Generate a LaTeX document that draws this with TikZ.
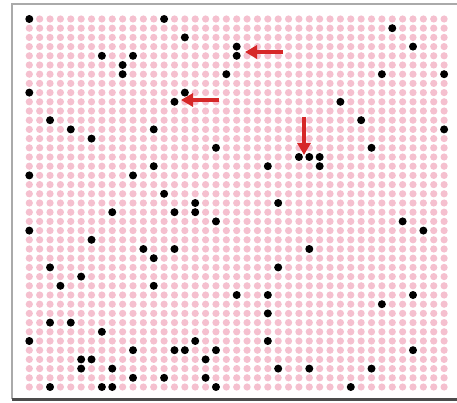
\documentclass[tikz,border=0pt]{standalone}
\usetikzlibrary{arrows.meta}
\definecolor{dotpink}{RGB}{245,192,207}
\definecolor{arrowred}{RGB}{214,40,40}
\definecolor{framegray}{RGB}{170,170,170}
\tikzset{
  pinkdot/.style={fill=dotpink},
  blackdot/.style={fill=black},
  redarrow/.style={draw=arrowred, line width=3.5pt, -{Triangle[length=12pt,width=13pt]}}
}
\begin{document}
\begin{tikzpicture}[x=1pt,y=-1pt]
\useasboundingbox (0,0) rectangle (457,403);
\fill[white] (0,0) rectangle (457,403);
% frame
\draw[framegray, line width=1.2pt] (12,399) -- (12,4) -- (457,4);
\draw[black!70, line width=2.4pt] (12,399.5) -- (457,399.5);
% pink grid
\foreach \c in {0,...,40}{
  \foreach \r in {0,...,40}{
    \fill[pinkdot] ({29.3+10.37*\c},{19+9.2*\r}) circle[radius=3.6];
  }
}
% black dots
\foreach \c/\r in {0/0,13/0,35/1,15/2,7/4,10/4,20/3,20/4,37/3,9/5,9/6,19/6,34/6,40/6,0/8,15/8,14/9,30/9,2/11,32/11,4/12,12/12,40/12,6/13,18/14,33/14,26/15,27/15,28/15,28/16,12/16,23/16,0/17,10/17,13/19,16/20,24/20,8/21,14/21,16/21,18/22,36/22,38/23,0/23,6/24,11/25,14/25,27/25,12/26,2/27,24/27,5/28,3/29,12/29,20/30,23/30,37/30,34/31,23/32,2/33,4/33,7/34,0/35,16/35,23/35,10/36,14/36,15/36,18/36,37/36,5/37,6/37,17/37,5/38,8/38,24/38,27/38,33/38,10/39,13/39,17/39,2/40,7/40,8/40,18/40,31/40}{
  \fill[blackdot] ({29.3+10.37*\c},{19+9.2*\r}) circle[radius=4];
}
% arrows
\coordinate (a1s) at (283,52);
\coordinate (a1e) at (245,52);
\coordinate (a2s) at (219,100);
\coordinate (a2e) at (181,100);
\coordinate (a3s) at (304,117);
\coordinate (a3e) at (304,155);
\draw[redarrow] (a1s) -- (a1e);
\draw[redarrow] (a2s) -- (a2e);
\draw[redarrow] (a3s) -- (a3e);
\end{tikzpicture}
\end{document}
